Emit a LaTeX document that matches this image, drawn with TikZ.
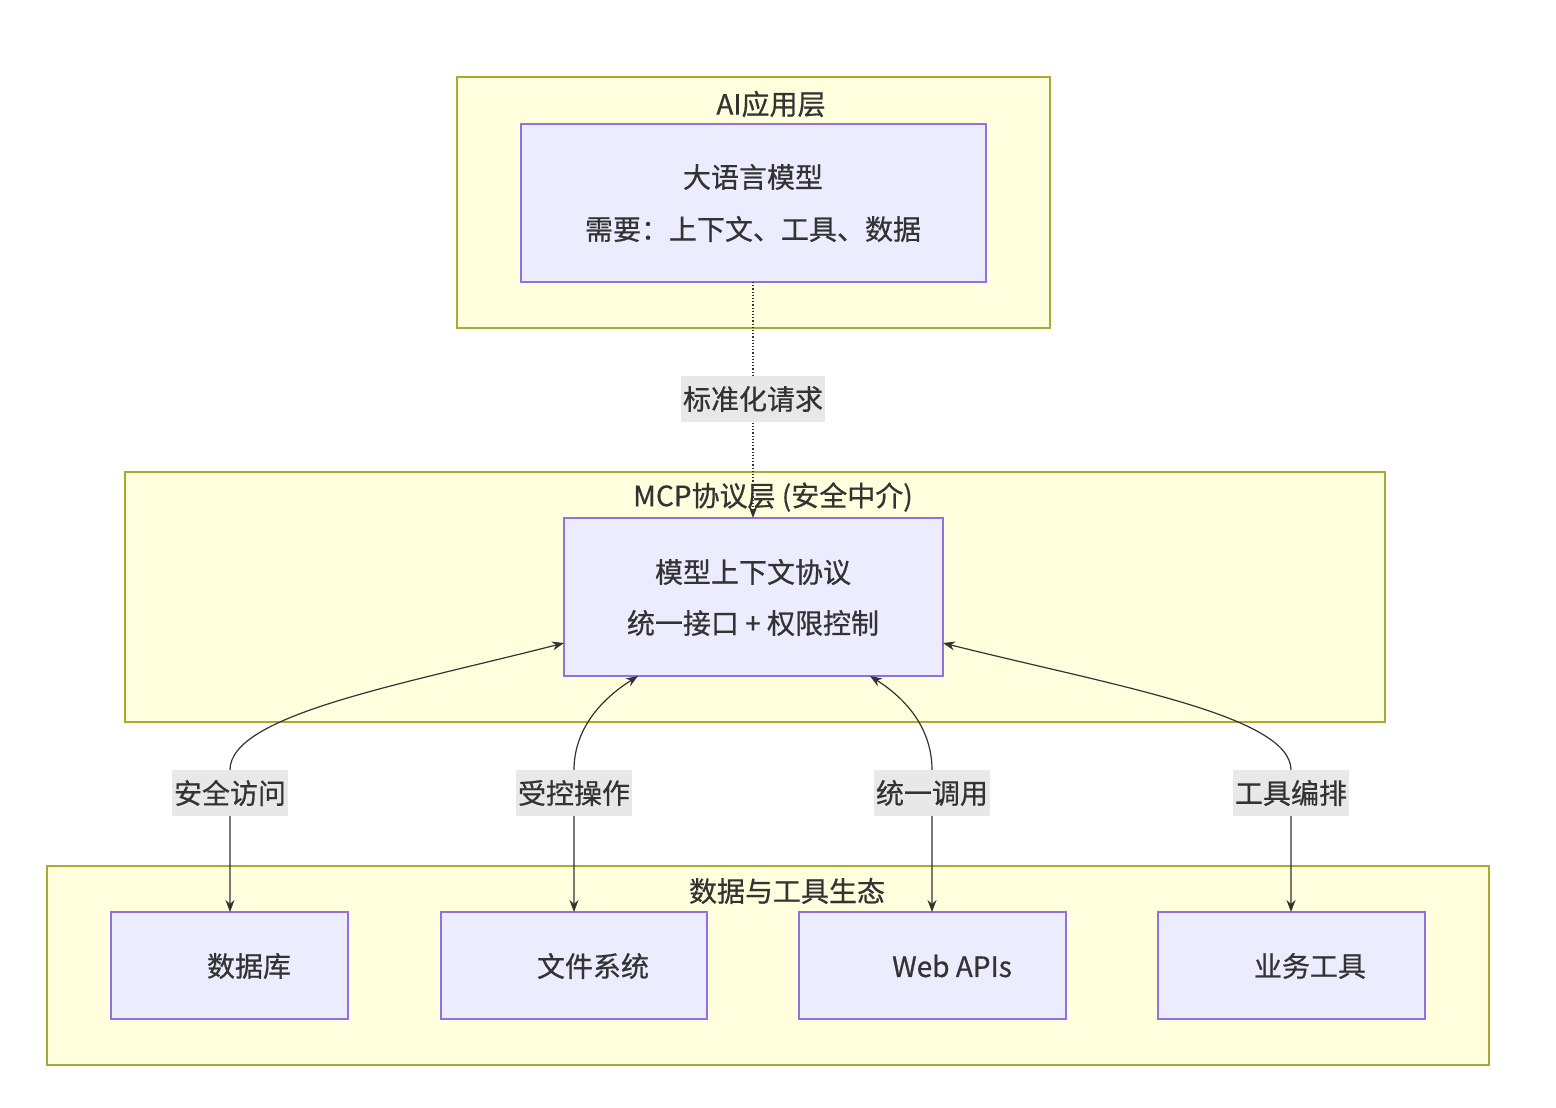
\documentclass[tikz,border=0pt]{standalone}
\usepackage{fontspec}
\setmainfont[AutoFakeBold=0.6]{Noto Sans CJK SC}
\usetikzlibrary{arrows.meta}
\definecolor{layerfill}{HTML}{FFFFDE}
\definecolor{layerline}{HTML}{AAAA33}
\definecolor{nodefill}{HTML}{ECECFF}
\definecolor{nodeline}{HTML}{9370DB}
\definecolor{txt}{HTML}{333333}
\definecolor{lblfill}{HTML}{E8E8E8}
\tikzset{
  layer/.style={draw=layerline, fill=layerfill, line width=1.2pt},
  box/.style={draw=nodeline, fill=nodefill, line width=1.2pt},
  txtstyle/.style={text=txt, font=\fontsize{28}{34}\selectfont\bfseries},
  lbl/.style={fill=lblfill, text=txt, font=\fontsize{28}{34}\selectfont\bfseries, inner sep=2pt, minimum height=46pt},
  link/.style={draw=txt, line width=1.2pt, {Stealth[length=12pt,width=9pt]}-{Stealth[length=12pt,width=9pt]}},
}
\begin{document}
\begin{tikzpicture}[x=1pt, y=-1pt]
\useasboundingbox (0,0) rectangle (1556,1108);

% layers
\draw[layer] (457,77) rectangle (1050,328);
\node[txtstyle] (titleai) at (771,104) {AI应用层};
\draw[layer] (125,472) rectangle (1385,722);
\node[txtstyle] (titlemcp) at (773,497) {MCP协议层 (安全中介)};
\draw[layer] (47,866) rectangle (1489,1065);
\node[txtstyle] (titledata) at (787,891) {数据与工具生态};

% nodes
\draw[box] (521,124) rectangle (986,282);
\coordinate (llm) at (753,282);
\node[txtstyle] (llmA) at (753,177) {大语言模型};
\node[txtstyle] (llmB) at (753,229) {需要：上下文、工具、数据};

\draw[box] (564,518) rectangle (943,676);
\coordinate (mcp) at (753,518);
\node[txtstyle] (mcpA) at (753,572) {模型上下文协议};
\node[txtstyle] (mcpB) at (753,623) {统一接口 + 权限控制};

\draw[box] (111,912) rectangle (348,1019);
\node[txtstyle] (db) at (249,966) {数据库};
\draw[box] (441,912) rectangle (707,1019);
\node[txtstyle] (fs) at (593,966) {文件系统};
\draw[box] (799,912) rectangle (1066,1019);
\node[txtstyle] (web) at (952,966) {Web APIs};
\draw[box] (1158,912) rectangle (1425,1019);
\node[txtstyle] (biz) at (1310,966) {业务工具};

% anchor points
\coordinate (mcpW) at (564,643);
\coordinate (mcpS1) at (638,676);
\coordinate (mcpS2) at (870,676);
\coordinate (mcpE) at (943,643);
\coordinate (dbN) at (230,912);
\coordinate (fsN) at (574,912);
\coordinate (webN) at (932,912);
\coordinate (bizN) at (1291,912);

% edges
\draw[draw=txt, line width=1.2pt, dotted, -{Stealth[length=12pt,width=9pt]}] (llm) -- (mcp);
\node[lbl] (l0) at (753,399) {标准化请求};

\draw[link] (mcpW) .. controls (400,685) and (230,715) .. (230,770) -- (dbN);
\draw[link] (mcpS1) .. controls (600,700) and (574,730) .. (574,770) -- (fsN);
\draw[link] (mcpS2) .. controls (908,700) and (932,730) .. (932,770) -- (webN);
\draw[link] (mcpE) .. controls (1110,685) and (1291,715) .. (1291,770) -- (bizN);

\node[lbl] (l1) at (230,793) {安全访问};
\node[lbl] (l2) at (574,793) {受控操作};
\node[lbl] (l3) at (932,793) {统一调用};
\node[lbl] (l4) at (1291,793) {工具编排};
\end{tikzpicture}
\end{document}
